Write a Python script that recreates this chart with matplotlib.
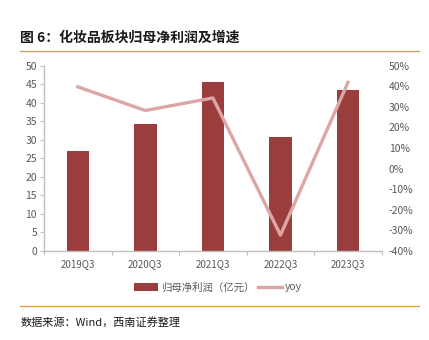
import matplotlib.pyplot as plt
from matplotlib.patches import Patch
from matplotlib.lines import Line2D
from matplotlib.ticker import FuncFormatter

plt.rcParams['font.family'] = ['Noto Sans CJK SC', 'DejaVu Sans']

# Data
quarters = ['2019Q3', '2020Q3', '2021Q3', '2022Q3', '2023Q3']
net_profit = [27.0, 34.3, 45.7, 30.8, 43.3]      # 亿元
yoy = [39.7, 28.2, 34.3, -32.3, 41.9]             # %

bar_color = '#9C3D3D'
line_color = '#DDA6A6'
tick_color = '#595959'
axis_color = '#BFBFBF'

fig = plt.figure(figsize=(4.29, 3.4), dpi=100)
ax = fig.add_axes([0.1026, 0.262, 0.7874, 0.545])
ax2 = ax.twinx()

x = range(len(quarters))
ax.bar(x, net_profit, width=0.33, color=bar_color, zorder=2)
ax2.plot(x, yoy, color=line_color, linewidth=2.4, zorder=3)

ax.set_xlim(-0.5, len(quarters) - 0.5)
ax.set_ylim(0, 50)
ax.set_yticks(range(0, 51, 5))
ax2.set_ylim(-40, 50)
ax2.set_yticks(range(-40, 51, 10))
ax2.yaxis.set_major_formatter(FuncFormatter(lambda v, p: f'{int(v)}%'))

ax.set_xticks(list(x))
ax.set_xticklabels(quarters)
ax.set_xticks([i + 0.5 for i in range(-1, len(quarters))], minor=True)
ax.tick_params(axis='x', which='major', length=0, labelsize=7, colors=tick_color, pad=6)
ax.tick_params(axis='x', which='minor', length=3, color=axis_color, width=0.8)
ax.tick_params(axis='y', length=3, color=axis_color, labelsize=7.5, labelcolor=tick_color, pad=2)
ax2.tick_params(axis='y', length=0, labelsize=7.5, labelcolor=tick_color, pad=5)

for a in (ax, ax2):
    for s in ('top', 'right'):
        a.spines[s].set_visible(False)
ax2.spines['left'].set_visible(False)
ax2.spines['bottom'].set_visible(False)
ax.spines['left'].set_color(axis_color)
ax.spines['bottom'].set_color(axis_color)
ax.spines['left'].set_linewidth(1.0)
ax.spines['bottom'].set_linewidth(1.0)

handles = [Patch(facecolor=bar_color, label='归母净利润（亿元）'),
           Line2D([0], [0], color=line_color, linewidth=2.4, label='yoy')]
fig.legend(handles=handles, loc='center', bbox_to_anchor=(0.508, 0.155), ncol=2,
           frameon=False, fontsize=7.5, handlelength=2.3, handleheight=0.8,
           columnspacing=0.3, handletextpad=0.3, labelcolor=tick_color)

# Title, rules and source note
fig.text(0.047, 0.888, '图 6：化妆品板块归母净利润及增速', fontsize=10, fontweight='bold',
         color='#1a1a1a', va='center')
fig.add_artist(Line2D([0.047, 0.977], [0.85, 0.85], color='#C9A46A', linewidth=1.0))
fig.add_artist(Line2D([0.047, 0.977], [0.1, 0.1], color='#E3A24A', linewidth=1.0))
fig.text(0.047, 0.053, '数据来源：Wind，西南证券整理', fontsize=8, style='italic',
         color='#1a1a1a', va='center')

fig.savefig('out.png', dpi=100)
